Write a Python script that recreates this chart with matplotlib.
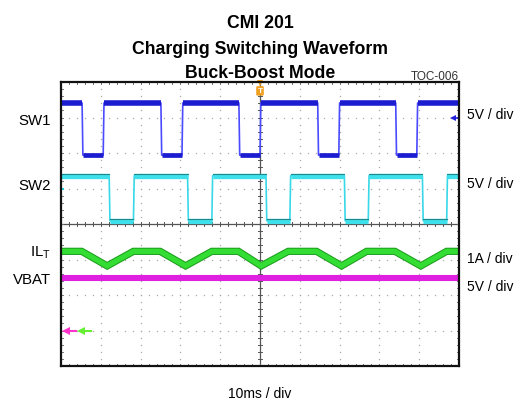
import numpy as np
import matplotlib
matplotlib.use("Agg")
import matplotlib.pyplot as plt

# scope screen in divisions: 10 x 8
sw1_hi, sw1_lo = 7.41, 5.94
sw1_fall = [0.53, 2.51, 4.47, 6.45, 8.41]
sw1_rise = [1.06, 3.04, 5.00, 6.98, 8.94]

sw2_hi, sw2_lo = 5.36, 4.09
sw2_fall = [1.21, 3.18, 5.15, 7.12, 9.08]
sw2_rise = [1.82, 3.79, 5.75, 7.72, 9.69]

il_x = [0, 0.52, 1.16, 1.82, 2.49, 3.13, 3.79, 4.46, 5.03, 5.71, 6.42, 7.05, 7.68, 8.39, 9.04, 9.69, 10]
il_y = [3.23, 3.23, 2.82, 3.23, 3.23, 2.82, 3.23, 3.23, 2.82, 3.23, 3.23, 2.82, 3.23, 3.23, 2.82, 3.23, 3.23]

vbat = 2.47

left_labels = ["SW1", "SW2", "IL$_\\mathregular{T}$", "VBAT"]
left_y = [6.92, 5.1, 3.22, 2.45]
right_labels = ["5V / div", "5V / div", "1A / div", "5V / div"]
right_y = [7.1, 5.16, 3.03, 2.26]

FONT = ['Liberation Sans Narrow', 'Liberation Sans', 'DejaVu Sans']
plt.rcParams['font.family'] = FONT

W, H = 521, 402
fig = plt.figure(figsize=(W / 100, H / 100), dpi=100)
ax = fig.add_axes([61 / W, (H - 367) / H, 398 / W, 284 / H])
ax.set_xlim(0, 10)
ax.set_ylim(0, 8)
ax.set_xticks([])
ax.set_yticks([])
for s in ax.spines.values():
    s.set_linewidth(1.6)
    s.set_color('#111111')

# dotted grid
for i in range(1, 10):
    yy = np.arange(0.2, 8, 0.2)
    ax.plot(np.full_like(yy, i), yy, ls='none', marker='s', ms=0.9, color='#aaaaaa', mew=0)
for j in range(1, 8):
    xx = np.arange(0.2, 10, 0.2)
    ax.plot(xx, np.full_like(xx, j), ls='none', marker='s', ms=0.9, color='#aaaaaa', mew=0)

# center axes with ticks
ax.axvline(5, color='#555555', lw=0.9)
ax.axhline(4, color='#555555', lw=0.9)
for t in np.arange(0.2, 10, 0.2):
    ax.plot([t, t], [3.93, 4.07], color='#555555', lw=0.7)
    ax.plot([t, t], [7.93, 8], color='#777777', lw=0.7)
    ax.plot([t, t], [0, 0.07], color='#777777', lw=0.7)
for t in np.arange(0.2, 8, 0.2):
    ax.plot([4.94, 5.06], [t, t], color='#555555', lw=0.7)
    ax.plot([0, 0.06], [t, t], color='#777777', lw=0.7)
    ax.plot([9.94, 10], [t, t], color='#777777', lw=0.7)


def square(fall, rise, hi, lo):
    xs, ys = [0], [hi]
    for f, r in zip(fall, rise):
        xs += [f, f + 0.02, r, r + 0.02]
        ys += [hi, lo, lo, hi]
    xs.append(10)
    ys.append(hi)
    return xs, ys


def plateaus(fall, rise):
    hi_seg, lo_seg = [], []
    prev = 0
    for f, r in zip(fall, rise):
        hi_seg.append((prev, f))
        lo_seg.append((f + 0.02, r))
        prev = r + 0.02
    hi_seg.append((prev, 10))
    return hi_seg, lo_seg


# SW1
x1, y1 = square(sw1_fall, sw1_rise, sw1_hi, sw1_lo)
ax.plot(x1, y1, color='#4a4aff', lw=1.2)
h, l = plateaus(sw1_fall, sw1_rise)
for a, b in h:
    ax.plot([a, b], [sw1_hi, sw1_hi], color='#1c1cd0', lw=4.0, solid_capstyle='butt')
for a, b in l:
    ax.plot([a, b], [sw1_lo, sw1_lo], color='#1c1cd0', lw=3.4, solid_capstyle='butt')

# SW2
x2, y2 = square(sw2_fall, sw2_rise, sw2_hi, sw2_lo)
ax.plot(x2, y2, color='#38d8e8', lw=1.2)
h, l = plateaus(sw2_fall, sw2_rise)
for a, b in h:
    ax.plot([a, b], [sw2_hi, sw2_hi], color='#3ee0ec', lw=3.8, solid_capstyle='butt')
    ax.plot([a, b], [sw2_hi + 0.06, sw2_hi + 0.06], color='#1a8a8a', lw=0.8)
for a, b in l:
    ax.plot([a, b], [sw2_lo, sw2_lo], color='#3ee0ec', lw=3.8, solid_capstyle='butt')
    ax.plot([a, b], [sw2_lo + 0.06, sw2_lo + 0.06], color='#1a8a8a', lw=0.8)

# IL
ax.plot(il_x, il_y, color='#1a9a1a', lw=5.2, solid_joinstyle='miter')
ax.plot(il_x, il_y, color='#33dd33', lw=3.8, solid_joinstyle='miter')

# VBAT
ax.axhline(vbat, color='#e020e0', lw=4.4)

# markers
ax.plot([0.12, 0.38], [1, 1], color='#ff33cc', lw=1.5)
ax.plot([0.12], [1], marker='<', ms=6, color='#ff33cc', mew=0)
ax.plot([0.5, 0.76], [1, 1], color='#66ee33', lw=1.5)
ax.plot([0.5], [1], marker='<', ms=6, color='#66ee33', mew=0)
ax.plot([9.85, 9.97], [7.0, 7.0], color='#2222dd', lw=1.2)
ax.plot([9.85], [7.0], marker='<', ms=4, color='#2222dd', mew=0)
ax.plot([0, 0.04], [5.0, 5.0], color='#22ccdd', lw=1.5, clip_on=False)
ax.plot([5], [7.98], marker='v', ms=4, color='#f0a020', mew=0, clip_on=False)
ax.text(5, 7.75, "T", ha='center', va='center', fontsize=6, color='white',
        fontweight='bold', bbox=dict(boxstyle='round,pad=0.15', fc='#f0a020', ec='none'))

# titles
fig.text(260 / W, 1 - 28.5 / H, "CMI 201", ha='center', va='baseline', fontsize=12.7, fontweight='bold')
fig.text(260 / W, 1 - 54.5 / H, "Charging Switching Waveform", ha='center', va='baseline', fontsize=12.7, fontweight='bold')
fig.text(260 / W, 1 - 78 / H, "Buck-Boost Mode", ha='center', va='baseline', fontsize=12.7, fontweight='bold')
fig.text(459 / W, 1 - 80.5 / H, "TOC-006", ha='right', va='baseline', fontsize=8.5, color='#333333')

for lab, yv in zip(left_labels, left_y):
    ax.text(-0.25, yv, lab, ha='right', va='center', fontsize=10.8)
for lab, yv in zip(right_labels, right_y):
    ax.text(10.2, yv, lab, ha='left', va='center', fontsize=10)

fig.text(260 / W, 1 - 398 / H, "10ms / div", ha='center', va='baseline', fontsize=10)

fig.savefig("out.png", dpi=100)
